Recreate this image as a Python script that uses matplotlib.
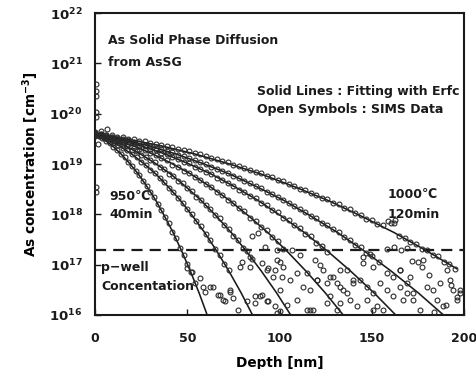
import numpy as np
import matplotlib
matplotlib.use("Agg")
import matplotlib.pyplot as plt
from matplotlib.ticker import NullLocator, FixedLocator

# ---------------- data (depth in nm, log10 concentration in cm^-3) ----------------
# Erfc fitting lines
fit1_depth = [0, 4.7, 9.4, 14.1, 18.8, 23.5, 28.2, 32.9, 37.6, 42.3, 47.0, 51.7, 56.4, 61.1, 65.8]
fit1_log = [19.60, 19.49, 19.36, 19.20, 19.01, 18.80, 18.55, 18.28, 17.97, 17.64, 17.27, 16.87, 16.44, 15.97, 15.48]
fit2_depth = [0, 6.6, 13.2, 19.8, 26.4, 33.0, 39.6, 46.2, 52.8, 59.4, 66.0, 72.6, 79.2, 85.8, 92.4]
fit2_log = [19.60, 19.49, 19.36, 19.20, 19.01, 18.80, 18.55, 18.28, 17.97, 17.64, 17.27, 16.87, 16.44, 15.97, 15.48]
fit3_depth = [0, 8.2, 16.4, 24.6, 32.8, 41.0, 49.2, 57.4, 65.6, 73.8, 82.0, 90.2, 98.4, 106.6, 114.8]
fit3_log = [19.60, 19.49, 19.36, 19.20, 19.01, 18.80, 18.55, 18.28, 17.97, 17.64, 17.27, 16.87, 16.44, 15.97, 15.48]
fit4_depth = [0, 10.4, 20.8, 31.2, 41.6, 52.0, 62.4, 72.8, 83.2, 93.6, 104.0, 114.4, 124.8, 135.2, 145.6]
fit4_log = [19.60, 19.49, 19.36, 19.20, 19.01, 18.80, 18.55, 18.28, 17.97, 17.64, 17.27, 16.87, 16.44, 15.97, 15.48]
fit5_depth = [0, 12.6, 25.2, 37.8, 50.4, 63.0, 75.6, 88.2, 100.8, 113.4, 126.0, 138.6, 151.2, 163.8, 176.4]
fit5_log = [19.60, 19.49, 19.36, 19.20, 19.01, 18.80, 18.55, 18.28, 17.97, 17.64, 17.27, 16.87, 16.44, 15.97, 15.48]
fit6_depth = [0, 14.6, 29.2, 43.8, 58.4, 73.0, 87.6, 102.2, 116.8, 131.4, 146.0, 160.6, 175.2, 189.8, 204.4]
fit6_log = [19.60, 19.49, 19.36, 19.20, 19.01, 18.80, 18.55, 18.28, 17.97, 17.64, 17.27, 16.87, 16.44, 15.97, 15.48]
fit7_depth = [0, 18, 36, 54, 72, 90, 108, 126, 144, 162, 180, 196]
fit7_log = [19.60, 19.49, 19.36, 19.20, 19.01, 18.80, 18.55, 18.28, 17.97, 17.64, 17.27, 16.92]

# SIMS data along each profile
sims1_depth = [0, 2, 4, 6, 8, 10, 12, 14, 16, 18, 20, 22, 24, 26, 28, 30, 32, 34, 36, 38,
               40, 42, 44, 46, 48, 50, 52, 54]
sims1_log = [19.58, 19.55, 19.52, 19.45, 19.41, 19.33, 19.28, 19.19, 19.14, 19.03, 18.97, 18.86,
             18.78, 18.66, 18.57, 18.44, 18.34, 18.20, 18.09, 17.94, 17.82, 17.65, 17.52, 17.34,
             17.20, 17.01, 16.85, 16.64]
sims2_depth = [0, 2.5, 5, 7.5, 10, 12.5, 15, 17.5, 20, 22.5, 25, 27.5, 30, 32.5, 35, 37.5,
               40, 42.5, 45, 47.5, 50, 52.5, 55, 57.5, 60, 62.5, 65, 67.5, 70, 72.5]
sims2_log = [19.62, 19.57, 19.52, 19.48, 19.42, 19.38, 19.31, 19.27, 19.19, 19.13, 19.04, 18.99,
             18.89, 18.82, 18.72, 18.64, 18.53, 18.45, 18.32, 18.23, 18.10, 18.00, 17.86, 17.76,
             17.60, 17.49, 17.32, 17.20, 17.02, 16.90]
sims3_depth = [0, 2.5, 5, 7.5, 10, 12.5, 15, 17.5, 20, 22.5, 25, 27.5, 30, 32.5, 35, 37.5,
               40, 42.5, 45, 47.5, 50, 52.5, 55, 57.5, 60, 62.5, 65, 67.5, 70, 72.5,
               75, 77.5, 80, 82.5, 85]
sims3_log = [19.58, 19.56, 19.53, 19.51, 19.45, 19.43, 19.37, 19.35, 19.28, 19.25, 19.18, 19.14,
             19.07, 19.03, 18.95, 18.90, 18.81, 18.76, 18.67, 18.62, 18.52, 18.46, 18.35, 18.29,
             18.18, 18.11, 17.99, 17.92, 17.79, 17.71, 17.57, 17.50, 17.34, 17.27, 17.11]
sims4_depth = [0, 3, 6, 9, 12, 15, 18, 21, 24, 27, 30, 33, 36, 39, 42, 45, 48, 51, 54, 57,
               60, 63, 66, 69, 72, 75, 78, 81, 84, 87, 90, 93, 96, 99, 102]
sims4_log = [19.56, 19.58, 19.53, 19.52, 19.46, 19.44, 19.39, 19.36, 19.30, 19.28, 19.21, 19.18,
             19.11, 19.07, 18.99, 18.95, 18.87, 18.83, 18.74, 18.69, 18.60, 18.55, 18.45, 18.39,
             18.29, 18.23, 18.12, 18.06, 17.93, 17.87, 17.74, 17.68, 17.54, 17.47, 17.32]
sims5_depth = [0, 3, 6, 9, 12, 15, 18, 21, 24, 27, 30, 33, 36, 39, 42, 45, 48, 51, 54, 57,
               60, 63, 66, 69, 72, 75, 78, 81, 84, 87, 90, 93, 96, 99, 102, 105, 108, 111,
               114, 117, 120, 123, 126]
sims5_log = [19.60, 19.59, 19.55, 19.53, 19.49, 19.48, 19.43, 19.41, 19.36, 19.35, 19.29, 19.27,
             19.21, 19.19, 19.13, 19.10, 19.04, 19.01, 18.94, 18.91, 18.84, 18.81, 18.73, 18.69,
             18.62, 18.57, 18.49, 18.45, 18.36, 18.32, 18.23, 18.18, 18.08, 18.04, 17.93, 17.89,
             17.78, 17.72, 17.60, 17.56, 17.43, 17.38, 17.25]
sims6_depth = [0, 3, 6, 9, 12, 15, 18, 21, 24, 27, 30, 33, 36, 39, 42, 45, 48, 51, 54, 57,
               60, 63, 66, 69, 72, 75, 78, 81, 84, 87, 90, 93, 96, 99, 102, 105, 108, 111,
               114, 117, 120, 123, 126, 129, 132, 135, 138, 141, 144, 147, 150]
sims6_log = [19.61, 19.58, 19.57, 19.54, 19.52, 19.49, 19.47, 19.44, 19.42, 19.38, 19.36, 19.32,
             19.30, 19.25, 19.23, 19.18, 19.16, 19.11, 19.08, 19.03, 19.00, 18.95, 18.91, 18.86,
             18.82, 18.76, 18.73, 18.67, 18.63, 18.56, 18.52, 18.45, 18.41, 18.34, 18.29, 18.22,
             18.17, 18.10, 18.05, 17.97, 17.92, 17.83, 17.79, 17.70, 17.64, 17.55, 17.50, 17.40,
             17.35, 17.24, 17.18]
sims7_depth = [0, 3, 6, 9, 12, 15, 18, 21, 24, 27, 30, 33, 36, 39, 42, 45, 48, 51, 54, 57,
               60, 63, 66, 69, 72, 75, 78, 81, 84, 87, 90, 93, 96, 99, 102, 105, 108, 111,
               114, 117, 120, 123, 126, 129, 132, 135, 138, 141, 144, 147, 150, 153, 156, 159,
               162, 165, 168, 171, 174, 177, 180, 183, 186, 189, 192, 195]
sims7_log = [19.63, 19.60, 19.58, 19.57, 19.54, 19.53, 19.50, 19.49, 19.46, 19.45, 19.42, 19.40,
             19.37, 19.35, 19.33, 19.30, 19.27, 19.25, 19.22, 19.19, 19.16, 19.12, 19.10, 19.05,
             19.03, 18.99, 18.96, 18.92, 18.89, 18.84, 18.82, 18.77, 18.74, 18.69, 18.66, 18.60,
             18.57, 18.51, 18.48, 18.42, 18.39, 18.33, 18.30, 18.23, 18.20, 18.13, 18.10, 18.02,
             17.99, 17.91, 17.88, 17.80, 17.78, 17.86, 17.82, 17.57, 17.53, 17.45, 17.42, 17.32,
             17.30, 17.20, 17.17, 17.06, 17.02, 16.92]

# SIMS data near the surface and below the detection floor (scattered)
sims_extra_depth = [0.4, 0.4, 0.6, 0.8, 0.8, 0.4, 0.4, 6.5, 3.0, 1.5,
                    49.7, 52.4, 56.9, 58.7, 64.1, 66.8, 69.5, 73.2, 75.0,
                    59.6, 62.3, 67.8, 70.5, 73.2, 77.7, 82.2, 86.7, 90.3, 94.0, 97.6, 100.3,
                    79.5, 84.0, 90.3, 94.0, 97.6, 101.2, 84.9, 88.5, 92.1, 98.5, 100.3,
                    84.0, 78.6, 93.0, 98.5, 96.6, 102.1, 105.7, 100.3, 109.3, 112.9, 89.4,
                    86.7, 93.0, 103.9, 109.3, 116.5, 120.2, 123.7, 127.4, 131.0, 134.6, 127.4,
                    132.8, 136.4, 140.0, 114.7, 118.3, 98.5,
                    114.7, 120.2, 125.6, 129.2, 132.8, 136.4, 140.0, 143.6, 147.3, 150.9, 154.5,
                    158.1, 161.7, 165.3, 168.9, 172.5, 147.3, 152.7, 156.3, 141.8, 138.2, 132.8,
                    145.4, 150.9, 158.1, 165.3, 170.7, 116.5, 125.6, 131.0,
                    172.0, 175.0, 178.0, 190.8, 192.4, 194.2, 196.0, 197.8, 187.0, 183.2, 185.2,
                    188.8, 176.2, 179.8, 172.5, 167.1, 168.9, 161.7, 165.3, 150.9, 158.0, 162.0,
                    166.0, 169.0, 196.0, 198.0, 181.0, 177.0, 190.0, 184.0, 193.0, 160.5, 162.5,
                    145.0, 149.0, 154.0, 107.0, 111.0, 119.0, 122.0]
sims_extra_log = [20.58, 20.46, 20.36, 20.04, 19.94, 18.55, 18.44, 19.69, 19.65, 19.40,
                  16.93, 16.86, 16.73, 16.56, 16.56, 16.40, 16.30, 16.50, 16.33,
                  16.46, 16.56, 16.40, 16.27, 16.46, 16.10, 16.27, 16.37, 16.40, 16.27, 16.17, 16.07,
                  17.06, 16.96, 17.03, 16.93, 16.90, 16.76, 17.56, 17.63, 17.36, 17.29, 17.06,
                  17.16, 16.96, 16.90, 17.10, 16.76, 16.96, 16.70, 16.50, 16.83, 16.56, 16.37,
                  16.23, 16.27, 16.20, 16.30, 16.50, 16.70, 16.90, 16.76, 16.63, 16.50, 16.37,
                  16.23, 16.90, 16.70, 16.10, 16.10, 16.03,
                  16.83, 16.70, 16.63, 16.76, 16.56, 16.43, 16.63, 16.70, 16.56, 16.43, 16.63,
                  16.50, 16.37, 16.56, 16.43, 16.30, 16.30, 16.17, 16.10, 16.17, 16.30, 16.90,
                  17.03, 16.96, 16.83, 16.90, 16.76, 16.10, 16.23, 16.10,
                  17.08, 17.05, 17.10, 16.90, 16.70, 16.50, 16.30, 16.43, 16.63, 16.50, 16.30,
                  16.17, 16.10, 16.56, 16.43, 16.30, 16.63, 16.76, 16.90, 16.10, 17.32, 17.35,
                  17.30, 17.34, 16.36, 16.50, 16.80, 16.95, 16.20, 16.05, 16.60, 17.82, 17.88,
                  17.15, 17.22, 17.05, 17.30, 17.20, 17.10, 17.00]

pwell_level = 2e17
xticks = [0, 50, 100, 150, 200]
yexps = [16, 17, 18, 19, 20, 21, 22]

# ---------------- figure ----------------
W, H = 476, 369
fig = plt.figure(figsize=(W / 100, H / 100), dpi=100)
ax = fig.add_axes([95 / W, (H - 315) / H, 369 / W, 302 / H])

line_kw = dict(color="#1a1a1a", lw=1.15, zorder=3)
fits = [(fit1_depth, fit1_log), (fit2_depth, fit2_log), (fit3_depth, fit3_log),
        (fit4_depth, fit4_log), (fit5_depth, fit5_log), (fit6_depth, fit6_log),
        (fit7_depth, fit7_log)]
for d, l in fits:
    ax.plot(d, 10 ** np.array(l), **line_kw)

mk_kw = dict(ls="none", marker="o", mfc="none", mec="#2a2a2a", ms=3.5, mew=0.8, zorder=4,
             clip_on=True)
sims = [(sims1_depth, sims1_log), (sims2_depth, sims2_log), (sims3_depth, sims3_log),
        (sims4_depth, sims4_log), (sims5_depth, sims5_log), (sims6_depth, sims6_log),
        (sims7_depth, sims7_log), (sims_extra_depth, sims_extra_log)]
for d, l in sims:
    ax.plot(d, 10 ** np.array(l), **mk_kw)

ax.axhline(pwell_level, color="#1a1a1a", lw=1.6, ls=(0, (5, 3.2)), zorder=2)

ax.set_yscale("log")
ax.set_xlim(0, 200)
ax.set_ylim(1e16, 1e22)
ax.xaxis.set_major_locator(FixedLocator(xticks))
ax.yaxis.set_major_locator(FixedLocator([10.0 ** e for e in yexps]))
ax.yaxis.set_minor_locator(NullLocator())
ax.xaxis.set_minor_locator(NullLocator())
ax.set_xticklabels([str(v) for v in xticks], fontsize=9, fontweight="bold")
ax.set_yticklabels([r"$\mathbf{10^{%d}}$" % e for e in yexps], fontsize=9.5)
ax.tick_params(axis="both", direction="in", length=4, width=1.0, colors="#1a1a1a")
ax.tick_params(axis="x", pad=12)
ax.tick_params(axis="y", pad=9)
for s in ax.spines.values():
    s.set_linewidth(1.5)
    s.set_color("#1a1a1a")

ax.set_xlabel("Depth [nm]", fontsize=9.8, fontweight="bold", labelpad=8)
ax.set_ylabel(r"As concentration [cm$^{\mathbf{-3}}$]", fontsize=9.8, fontweight="bold",
              labelpad=6)

fam = ["DejaVu Sans", "Noto Sans CJK JP"]
tkw = dict(transform=ax.transAxes, fontsize=9.0, fontweight="bold", color="#1a1a1a",
           family=fam, va="center")


def ax_xy(px, py):
    return ((px - 95) / 369, (315 - py) / 302)


ax.text(*ax_xy(108, 40), "As Solid Phase Diffusion", **tkw)
ax.text(*ax_xy(108, 63), "from AsSG", **tkw)
ax.text(*ax_xy(257, 91), "Solid Lines : Fitting with Erfc", **tkw)
ax.text(*ax_xy(257, 109), "Open Symbols : SIMS Data", **tkw)
ax.text(*ax_xy(109, 196), "950℃", **tkw)
ax.text(*ax_xy(109, 215), "40min", **tkw)
ax.text(*ax_xy(388, 195), "1000℃", **tkw)
ax.text(*ax_xy(388, 214), "120min", **tkw)
ax.text(*ax_xy(101, 268), "p−well", **tkw)
ax.text(*ax_xy(101, 287), "Concentation", **tkw)

fig.savefig("out.png", dpi=100)
